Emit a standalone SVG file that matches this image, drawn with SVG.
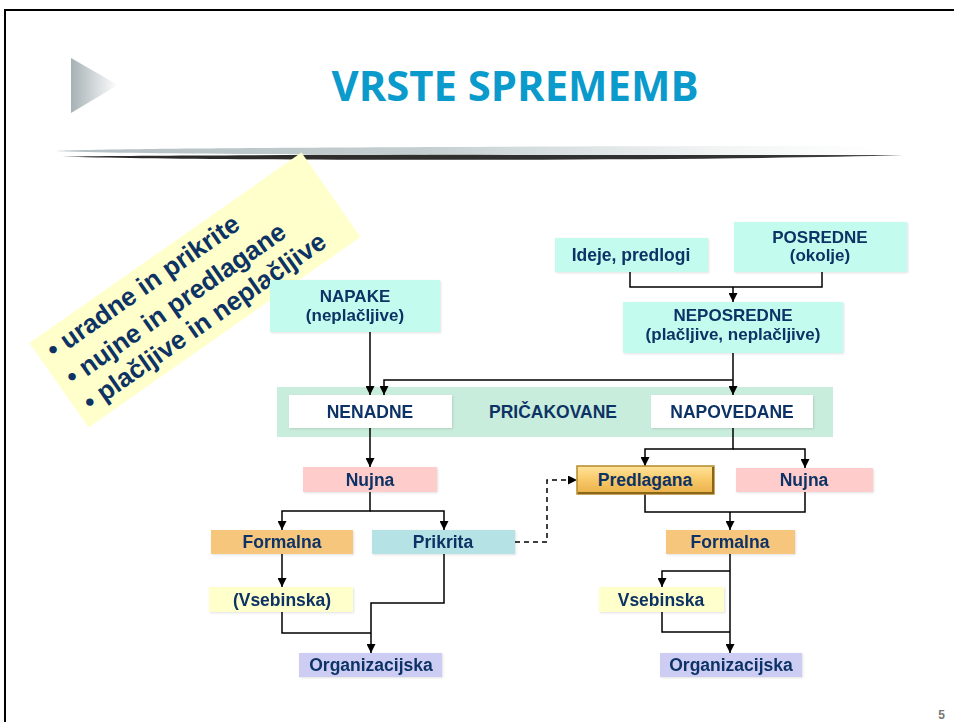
<svg xmlns="http://www.w3.org/2000/svg" width="954" height="722" viewBox="0 0 954 722">
<defs>
<linearGradient id="triG" x1="0" y1="0" x2="1" y2="0">
<stop offset="0" stop-color="#a6b1b5"/><stop offset="1" stop-color="#ffffff"/>
</linearGradient>
<linearGradient id="barG" x1="55" y1="0" x2="880" y2="0" gradientUnits="userSpaceOnUse">
<stop offset="0" stop-color="#b2bfc3"/><stop offset="0.45" stop-color="#c5cfd2"/><stop offset="0.8" stop-color="#f2f4f4"/><stop offset="1" stop-color="#ffffff"/>
</linearGradient>
<linearGradient id="darkG" x1="62" y1="0" x2="903" y2="0" gradientUnits="userSpaceOnUse">
<stop offset="0" stop-color="#2a2a2a"/><stop offset="0.85" stop-color="#333"/><stop offset="1" stop-color="#555"/>
</linearGradient>
<linearGradient id="goldG" x1="0" y1="0" x2="0" y2="1">
<stop offset="0" stop-color="#ffe49a"/><stop offset="0.5" stop-color="#f8c867"/><stop offset="1" stop-color="#e9b04a"/>
</linearGradient>
<marker id="ah" viewBox="0 0 10 10" refX="10" refY="5" markerWidth="9" markerHeight="9" markerUnits="userSpaceOnUse" orient="auto">
<path d="M0,0 L10,5 L0,10 z" fill="#000"/>
</marker>
<filter id="sh" x="-10%" y="-20%" width="120%" height="140%">
<feGaussianBlur in="SourceAlpha" stdDeviation="1.2"/>
<feOffset dx="1" dy="1" result="b"/>
<feFlood flood-color="#000" flood-opacity="0.12"/>
<feComposite in2="b" operator="in"/>
<feMerge><feMergeNode/><feMergeNode in="SourceGraphic"/></feMerge>
</filter>
</defs>
<style>
.t{font-family:"Liberation Sans",Arial,sans-serif;font-weight:bold;font-size:17.5px;fill:#0d3365;text-anchor:middle}
.t2{font-family:"Liberation Sans",Arial,sans-serif;font-weight:bold;font-size:17px;fill:#0d3365;text-anchor:middle}
.c{fill:none;stroke:#000;stroke-width:1.5}
.a{marker-end:url(#ah)}
.aq{fill:#c3fbee}
.pk{fill:#ffcccc}
.or{fill:#f5c67c}
.yl{fill:#ffffcc}
.bl{fill:#b5e2e4}
.vi{fill:#cdcdf4}
.wh{fill:#ffffff}
.note{font-family:"Liberation Sans",Arial,sans-serif;font-weight:bold;font-size:26px;fill:#0d3365}
</style>
<rect x="0" y="0" width="954" height="722" fill="#fff"/>
<path d="M5,722 V10 H954" fill="none" stroke="#000" stroke-width="2"/>
<polygon points="71,58 118,85 71,113" fill="url(#triG)"/>
<text x="515" y="101" font-family="'Open Sans','Liberation Sans',sans-serif" font-weight="bold" font-size="41" fill="#0a9acb" text-anchor="middle" textLength="367" lengthAdjust="spacingAndGlyphs">VRSTE SPREMEMB</text>
<path d="M62,156.5 C200,154.5 700,154 903,155.3 C700,161 200,161 62,156.5 Z" fill="url(#darkG)"/>
<path d="M55,151 C120,147.5 600,146 880,146 L880,155 C600,155 150,155.5 55,151 Z" fill="url(#barG)"/>
<g id="note" transform="translate(195,290) rotate(-35)">
<rect x="-166" y="-51.5" width="332" height="103" fill="#ffffcc"/>
<text class="note" x="-155" y="-24">• uradne in prikrite</text>
<text class="note" x="-155" y="9">• nujne in predlagane</text>
<text class="note" x="-155" y="40">• plačljive in neplačljive</text>
</g>
<rect id="band" x="277" y="387" width="556" height="50" fill="#c9eddc"/>
<g id="connectors">
<path class="c" d="M630,272 V287 H822 V272"/>
<path class="c a" d="M733,287 V302"/>
<path class="c a" d="M733,353 V395"/>
<path class="c a" d="M733,380 H384 V395"/>
<path class="c a" d="M370,332 V395"/>
<path class="c a" d="M370,428 V467"/>
<path class="c a" d="M370,492 V511 H282 V530"/>
<path class="c a" d="M370,511 H444 V530"/>
<path class="c a" d="M282,554 V587"/>
<path class="c" d="M282,612 V633 H371"/>
<path class="c a" d="M444,554 V603 H371 V653"/>
<path class="c a" d="M515,542 H547 V480 H577" stroke-dasharray="5,4"/>
<path class="c a" d="M733,428 V449 H645 V466"/>
<path class="c a" d="M733,449 H805 V468"/>
<path class="c" d="M645,494 V512 H805 V492"/>
<path class="c a" d="M730,512 V530"/>
<path class="c a" d="M730,554 V653"/>
<path class="c a" d="M730,571 H662 V587"/>
<path class="c" d="M662,612 V632 H730"/>
</g>
<g id="napake" filter="url(#sh)"><rect class="aq" x="270" y="280" width="170" height="52"/><text class="t2" x="355" y="302">NAPAKE</text><text class="t2" x="355" y="321">(neplačljive)</text></g>
<g id="ideje" filter="url(#sh)"><rect class="aq" x="555" y="238" width="153" height="34"/><text class="t" x="631" y="261">Ideje, predlogi</text></g>
<g id="posredne" filter="url(#sh)"><rect class="aq" x="734" y="222" width="173" height="50"/><text class="t2" x="820" y="243">POSREDNE</text><text class="t2" x="820" y="261">(okolje)</text></g>
<g id="neposredne" filter="url(#sh)"><rect class="aq" x="623" y="302" width="220" height="51"/><text class="t2" x="733" y="321">NEPOSREDNE</text><text class="t2" x="733" y="340">(plačljive, neplačljive)</text></g>
<g id="nenadne" filter="url(#sh)"><rect class="wh" x="289" y="395" width="163" height="33"/><text class="t" x="370" y="418">NENADNE</text></g>
<g id="pricakovane"><text class="t" x="553" y="418">PRIČAKOVANE</text></g>
<g id="napovedane" filter="url(#sh)"><rect class="wh" x="651" y="395" width="162" height="33"/><text class="t" x="732" y="418">NAPOVEDANE</text></g>
<g id="nujnaL" filter="url(#sh)"><rect class="pk" x="303" y="467" width="134" height="25"/><text class="t" x="370" y="486">Nujna</text></g>
<g id="formalnaL" filter="url(#sh)"><rect class="or" x="211" y="530" width="142" height="24"/><text class="t" x="282" y="548">Formalna</text></g>
<g id="prikrita" filter="url(#sh)"><rect class="bl" x="372" y="530" width="143" height="24"/><text class="t" x="443" y="548">Prikrita</text></g>
<g id="vsebinskaL" filter="url(#sh)"><rect class="yl" x="209" y="587" width="144" height="25"/><text class="t" x="282" y="606">(Vsebinska)</text></g>
<g id="orgL" filter="url(#sh)"><rect class="vi" x="299" y="653" width="143" height="24"/><text class="t" x="371" y="671">Organizacijska</text></g>
<g id="predlagana"><rect x="577" y="466" width="137" height="28" fill="url(#goldG)" stroke="#b48a2c" stroke-width="1.5"/><path d="M713,467 V493 H578" fill="none" stroke="#8a6618" stroke-width="2"/><text class="t" x="645" y="486">Predlagana</text></g>
<g id="nujnaR" filter="url(#sh)"><rect class="pk" x="736" y="468" width="137" height="24"/><text class="t" x="804" y="486">Nujna</text></g>
<g id="formalnaR" filter="url(#sh)"><rect class="or" x="666" y="530" width="129" height="24"/><text class="t" x="730" y="548">Formalna</text></g>
<g id="vsebinskaR" filter="url(#sh)"><rect class="yl" x="599" y="587" width="125" height="25"/><text class="t" x="661" y="606">Vsebinska</text></g>
<g id="orgR" filter="url(#sh)"><rect class="vi" x="660" y="653" width="142" height="24"/><text class="t" x="731" y="671">Organizacijska</text></g>
<text x="945" y="719" font-family="'Liberation Sans',Arial,sans-serif" font-weight="bold" font-size="12" fill="#777" text-anchor="end">5</text>
</svg>
